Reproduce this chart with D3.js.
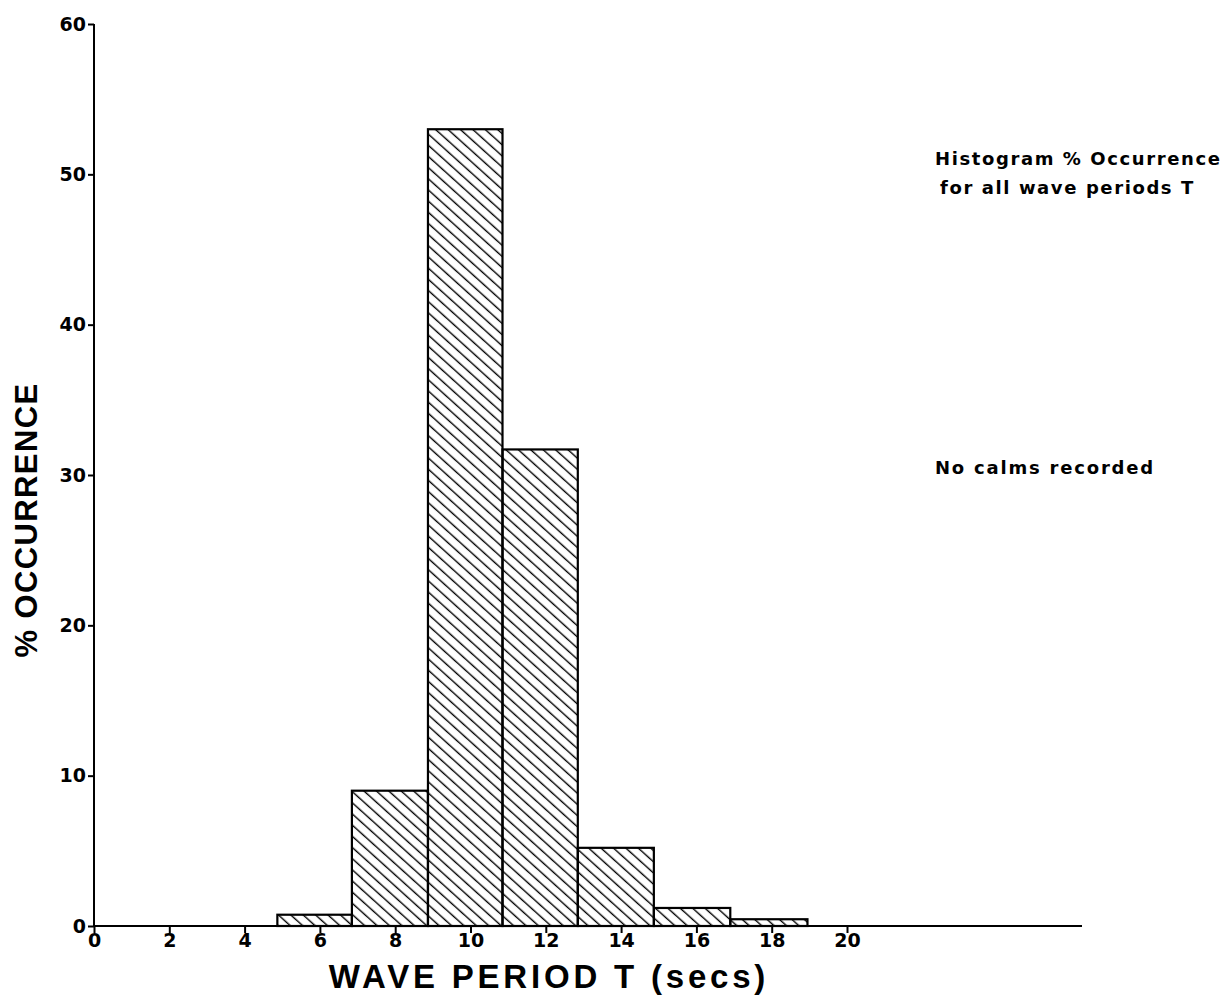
<!DOCTYPE html>
<html><head><meta charset="utf-8">
<script src="https://cdn.jsdelivr.net/npm/d3@7"></script>
<style>
body{margin:0;background:#fff;}
svg text{font-family:"Liberation Sans",Arial,sans-serif;font-weight:bold;fill:#000;}
svg text.dv{font-family:"DejaVu Sans",sans-serif;}
</style></head>
<body>
<svg id="c" width="1232" height="995"></svg>
<script>
// Bin edges (seconds) and % occurrence
const binStart = [4.87, 6.85, 8.87, 10.85, 12.85, 14.87, 16.9];
const binEnd   = [6.85, 8.87, 10.85, 12.85, 14.87, 16.9, 18.95];
const percent  = [0.75, 9.0, 53.0, 31.7, 5.2, 1.2, 0.45];
const xTicks = [0, 2, 4, 6, 8, 10, 12, 14, 16, 18, 20];
const yTicks = [0, 10, 20, 30, 40, 50, 60];

const svg = d3.select("#c");
const x = d3.scaleLinear().domain([0, 20]).range([94, 847]);
const y = d3.scaleLinear().domain([0, 60]).range([926, 24]);

const defs = svg.append("defs");
const pat = defs.append("pattern").attr("id","hatch").attr("patternUnits","userSpaceOnUse")
  .attr("width",8.3).attr("height",8.3).attr("patternTransform","rotate(42)");
pat.append("line").attr("x1",0).attr("x2",8.3).attr("y1",4).attr("y2",4)
  .attr("stroke","#000").attr("stroke-width",1.4);

// bars
svg.append("g").selectAll("rect").data(percent).join("rect")
  .attr("x",(d,i)=>x(binStart[i]))
  .attr("width",(d,i)=>x(binEnd[i])-x(binStart[i]))
  .attr("y",d=>y(d))
  .attr("height",d=>y(0)-y(d))
  .attr("fill","url(#hatch)")
  .attr("stroke","#000").attr("stroke-width",2.2);

// x axis baseline extended
svg.append("line").attr("x1",x(0)).attr("x2",1082).attr("y1",y(0)).attr("y2",y(0))
  .attr("stroke","#000").attr("stroke-width",2);

const xAxis = svg.append("g").attr("transform",`translate(0,${y(0)})`)
  .call(d3.axisBottom(x).tickValues(xTicks).tickSize(7).tickPadding(1).tickFormat(d3.format("d")));
xAxis.select(".domain").remove();
xAxis.selectAll("line").attr("stroke","#000").attr("stroke-width",2);
xAxis.selectAll("text").attr("class","dv").style("font-size","19px").style("font-weight","bold");

const yAxis = svg.append("g").attr("transform",`translate(${x(0)},0)`)
  .call(d3.axisLeft(y).tickValues(yTicks).tickSize(6).tickPadding(2).tickFormat(d3.format("d")));
yAxis.select(".domain").attr("stroke","#000").attr("stroke-width",2).attr("d",`M0,${y(60)}V${y(0)}`);
yAxis.selectAll("line").attr("stroke","#000").attr("stroke-width",2);
yAxis.selectAll("text").attr("class","dv").style("font-size","19px").style("font-weight","bold");

// axis titles
svg.append("text").attr("x",549).attr("y",988).attr("text-anchor","middle")
  .style("font-size","33px").style("letter-spacing","3.8px").text("WAVE PERIOD T (secs)");
svg.append("text").attr("transform","translate(37,520) rotate(-90)").attr("text-anchor","middle")
  .style("font-size","31px").style("letter-spacing","1.4px").text("% OCCURRENCE");

// annotations
svg.append("text").attr("class","dv").attr("x",935).attr("y",165).style("font-size","18px").style("letter-spacing","1.6px").text("Histogram % Occurrence");
svg.append("text").attr("class","dv").attr("x",940).attr("y",194).style("font-size","18px").style("letter-spacing","1.6px").text("for all wave periods T");
svg.append("text").attr("class","dv").attr("x",935).attr("y",474).style("font-size","18px").style("letter-spacing","1.8px").text("No calms recorded");
</script>
</body></html>
